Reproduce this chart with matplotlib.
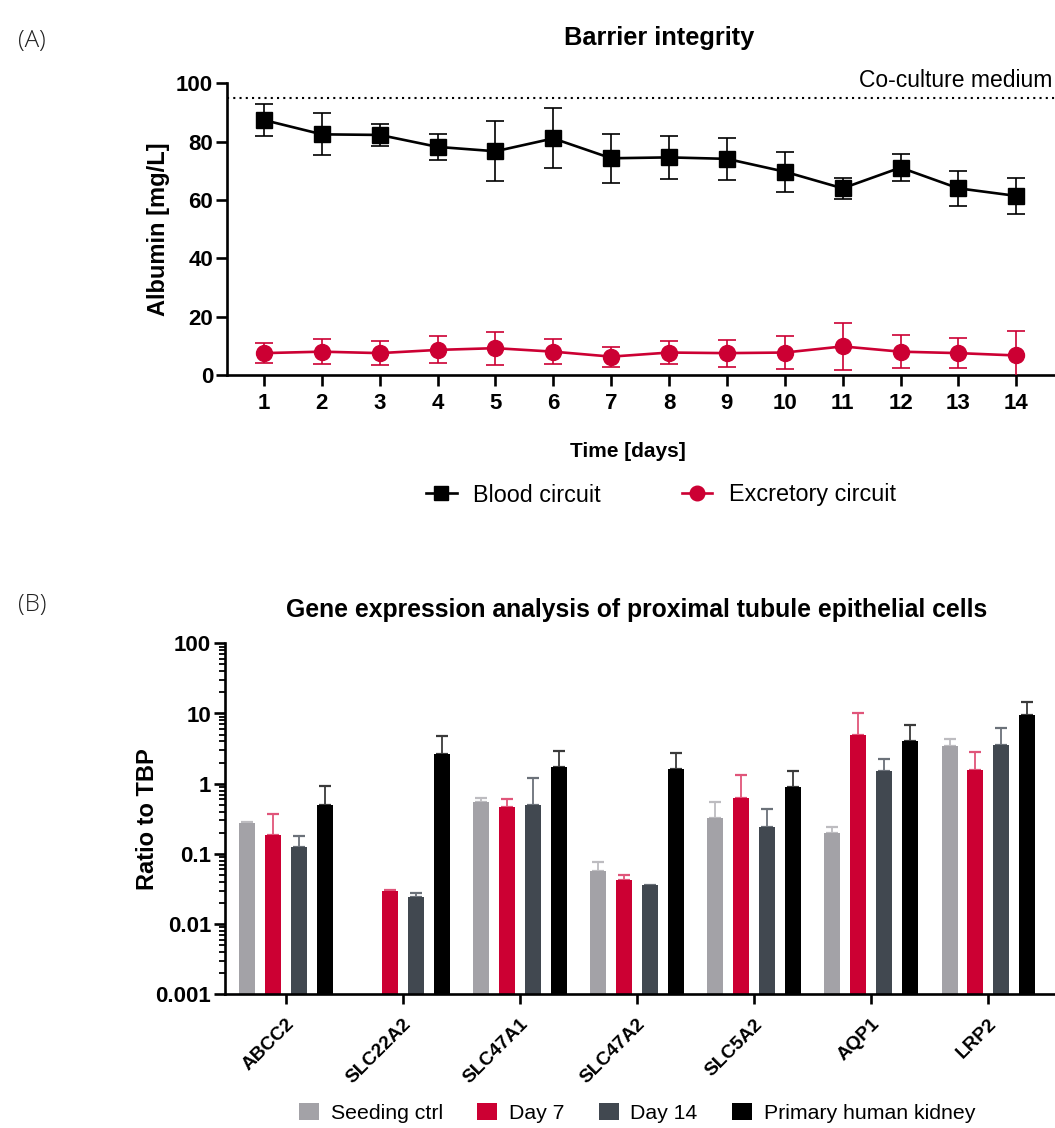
import numpy as np
import matplotlib
matplotlib.use('Agg')
import matplotlib.pyplot as plt
from matplotlib.ticker import LogLocator, NullFormatter
from matplotlib.lines import Line2D
from matplotlib.patches import Patch

plt.rcParams['font.family'] = ['Liberation Sans', 'DejaVu Sans']

# ---------------- data: panel A ----------------
days = list(range(1, 15))
blood_mean = [87.4, 82.5, 82.3, 78.2, 76.7, 81.1, 74.3, 74.6, 74.1, 69.7, 64.0, 71.1, 64.0, 61.4]
blood_sd = [5.4, 7.2, 3.9, 4.5, 10.3, 10.3, 8.4, 7.4, 7.1, 6.9, 3.6, 4.6, 5.9, 6.2]
excr_mean = [7.5, 8.0, 7.5, 8.6, 9.2, 8.0, 6.3, 7.7, 7.5, 7.7, 9.8, 8.0, 7.5, 6.7]
excr_sd = [3.4, 4.2, 4.0, 4.6, 5.7, 4.3, 3.4, 4.0, 4.6, 5.5, 8.0, 5.7, 5.2, 8.5]
medium_level = 95

# ---------------- data: panel B ----------------
nan = np.nan
genes = ['ABCC2', 'SLC22A2', 'SLC47A1', 'SLC47A2', 'SLC5A2', 'AQP1', 'LRP2']
seeding = [0.273, nan, 0.547, 0.0567, 0.329, 0.197, 3.39]
seeding_up = [0.286, nan, 0.616, 0.0755, 0.54, 0.245, 4.37]
day7 = [0.186, 0.030, 0.473, 0.043, 0.616, 4.99, 1.57]
day7_up = [0.372, 0.031, 0.596, 0.050, 1.31, 10.3, 2.81]
day14 = [0.126, 0.0246, 0.49, 0.0366, 0.245, 1.52, 3.58]
day14_up = [0.182, 0.028, 1.19, nan, 0.443, 2.28, 6.2]
primary = [0.50, 2.66, 1.71, 1.62, 0.885, 4.04, 9.42]
primary_up = [0.915, 4.76, 2.90, 2.72, 1.54, 6.78, 14.6]
series_names = ['Seeding ctrl', 'Day 7', 'Day 14', 'Primary human kidney']

RED = '#CC0033'
bar_colors = ['#A3A2A7', RED, '#414850', '#000000']
err_colors = ['#BDBCC0', '#E0557A', '#6B7179', '#3A3A3A']

W, H = 1055, 1128
fig = plt.figure(figsize=(W / 100, H / 100), dpi=100)

def fx(px):
    return px / W

def fy(py):
    return 1 - py / H

SPW = 1.9
TICK_FS = 16

# ================= Panel A =================
axA = fig.add_axes([fx(227), fy(375), fx(1055 - 227), (375 - 83.3) / H])
axA.errorbar(days, blood_mean, yerr=blood_sd, color='black', lw=1.9, marker='s',
             ms=11, ecolor='black', elinewidth=1.2, capsize=6.5, capthick=1.2,
             label='Blood circuit', zorder=3)
axA.errorbar(days, excr_mean, yerr=excr_sd, color=RED, lw=1.9, marker='o',
             ms=11.5, ecolor=RED, elinewidth=1.2, capsize=6.5, capthick=1.2,
             label='Excretory circuit', zorder=3)
axA.axhline(medium_level, color='black', ls=(0, (1, 2.0)), lw=1.5, zorder=1)
axA.text(0.997, 98.6, 'Co-culture medium', transform=axA.get_yaxis_transform(),
         ha='right', va='baseline', fontsize=16.5, clip_on=False)
axA.set_xlim(0.36, 14.67)
axA.set_ylim(0, 100)
axA.set_xticks(days)
axA.set_yticks([0, 20, 40, 60, 80, 100])
for s in ['top', 'right']:
    axA.spines[s].set_visible(False)
for s in ['left', 'bottom']:
    axA.spines[s].set_linewidth(SPW)
axA.tick_params(axis='y', width=SPW, length=8, labelsize=TICK_FS, pad=2)
axA.tick_params(axis='x', width=SPW, length=8, labelsize=TICK_FS, pad=5)
for lab in axA.get_xticklabels() + axA.get_yticklabels():
    lab.set_fontweight('bold')
axA.set_ylabel('Albumin [mg/L]', fontsize=17, fontweight='bold')
axA.yaxis.set_label_coords(-0.069, 0.5)
axA.set_xlabel('Time [days]', fontsize=15, fontweight='bold')
axA.xaxis.set_label_coords(0.484, -0.228)

fig.text(fx(659), fy(38), 'Barrier integrity', ha='center', va='center',
         fontsize=18.3, fontweight='bold')
fig.text(fx(18), fy(41), '(A)', ha='left', va='center', fontsize=17.5,
         family=['Open Sans', 'DejaVu Sans'], fontweight='light', color='#222222')

hA = [Line2D([], [], color='black', lw=1.9, marker='s', ms=10),
      Line2D([], [], color=RED, lw=1.9, marker='o', ms=10.5)]
fig.legend(hA, ['Blood circuit', 'Excretory circuit'], loc='center',
           bbox_to_anchor=(fx(661), fy(495)), ncol=2, frameon=False,
           fontsize=16.8, columnspacing=3.5, handlelength=1.3, handletextpad=0.7)

# ================= Panel B =================
axB = fig.add_axes([fx(225), fy(994.3), fx(1055 - 225), (994.3 - 643.3) / H])
x = np.arange(len(genes))
offsets = [-0.331, -0.110, 0.110, 0.331]
bw = 0.137
all_means = [seeding, day7, day14, primary]
all_up = [seeding_up, day7_up, day14_up, primary_up]
for i in range(4):
    m = np.array(all_means[i], dtype=float)
    u = np.array(all_up[i], dtype=float)
    xi = x + offsets[i]
    axB.bar(xi, m, width=bw, color=bar_colors[i], label=series_names[i], zorder=2)
    up = u - m
    lo = np.zeros_like(up)
    axB.errorbar(xi, m, yerr=[lo, up], fmt='none', ecolor=err_colors[i],
                 elinewidth=1.3, capsize=4, capthick=1.6, zorder=1.5)
axB.set_yscale('log')
axB.set_ylim(0.001, 100)
axB.set_xlim(-0.52, 6.57)
axB.set_yticks([0.001, 0.01, 0.1, 1, 10, 100])
axB.set_yticklabels(['0.001', '0.01', '0.1', '1', '10', '100'])
axB.yaxis.set_minor_locator(LogLocator(base=10, subs=np.arange(2, 10)))
axB.yaxis.set_minor_formatter(NullFormatter())
axB.set_xticks(x)
axB.set_xticklabels(genes, rotation=45, ha='right', va='top',
                    rotation_mode='anchor', fontsize=13.8, fontweight='bold')
for s in ['top', 'right']:
    axB.spines[s].set_visible(False)
for s in ['left', 'bottom']:
    axB.spines[s].set_linewidth(SPW)
axB.tick_params(axis='y', which='major', width=SPW, length=8, labelsize=TICK_FS, pad=2)
axB.tick_params(axis='y', which='minor', width=1.3, length=4)
axB.tick_params(axis='x', width=SPW, length=7.5, pad=8)
for lab in axB.get_yticklabels():
    lab.set_fontweight('bold')
axB.set_ylabel('Ratio to TBP', fontsize=17, fontweight='bold')
axB.yaxis.set_label_coords(-0.080, 0.5)

fig.text(fx(637), fy(610), 'Gene expression analysis of proximal tubule epithelial cells',
         ha='center', va='center', fontsize=17.8, fontweight='bold')
fig.text(fx(18), fy(605), '(B)', ha='left', va='center', fontsize=17.5,
         family=['Open Sans', 'DejaVu Sans'], fontweight='light', color='#222222')

hB = [Patch(facecolor=c, edgecolor='none') for c in bar_colors]
fig.legend(hB, series_names, loc='center', bbox_to_anchor=(fx(637), fy(1113)),
           ncol=4, frameon=False, fontsize=15.3, columnspacing=1.6,
           handlelength=0.95, handleheight=0.85, handletextpad=0.55)

fig.savefig('out.png', dpi=100)
